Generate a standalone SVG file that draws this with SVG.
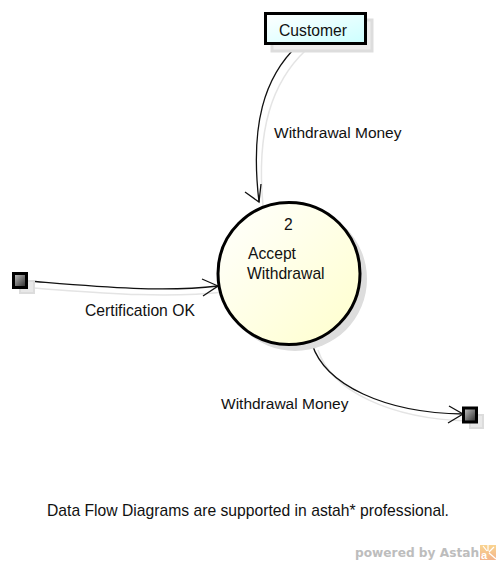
<svg xmlns="http://www.w3.org/2000/svg" width="500" height="565" viewBox="0 0 500 565">
<style>
text{font-family:"Liberation Sans",Arial,sans-serif;font-size:15.700px;fill:#111}
.lab{font-size:15.500px}
.flow{fill:none;stroke:#111;stroke-width:1.3}
.fs{fill:none;stroke:#e4e4e4;stroke-width:1.5}
.term{stroke:#000;stroke-width:3;fill:url(#tg)}
.ts{fill:#e8e8e8;stroke:#dcdcdc;stroke-width:2}
</style>
<defs>
<linearGradient id="cg" x1="0" y1="0" x2="1" y2="1"><stop offset="0" stop-color="#fff"/><stop offset="1" stop-color="#ccffff"/></linearGradient>
<linearGradient id="yg" x1="0" y1="0" x2="1" y2="1"><stop offset="0" stop-color="#fff"/><stop offset="1" stop-color="#ffffcc"/></linearGradient>
<linearGradient id="tg" x1="0" y1="0" x2="1" y2="1"><stop offset="0" stop-color="#ccc"/><stop offset="1" stop-color="#222"/></linearGradient>
<linearGradient id="lg" x1="0" y1="0" x2="0" y2="1"><stop offset="0" stop-color="#f9d490"/><stop offset="1" stop-color="#f3b48c"/></linearGradient>
</defs>
<g id="connectors">
<path class="fs" d="M306 50C272 82 256 130 263 206"/>
<path class="fs" d="M33 288C90 292 160 299 225 292"/>
<path class="fs" d="M318 350C331 391 391 419 468 421"/>
<path class="flow" d="M298 45C264 77 250 125 259 202"/>
<path class="flow" d="M245 192L259 202L261 184"/>
<path class="flow" d="M28 281C90 286 160 293 218 286"/>
<path class="flow" d="M202 279L218 286L203 296"/>
<path class="flow" d="M312 344C325 385 385 413 463 414"/>
<path class="flow" d="M449 406L463 414L448 423"/>
</g>
<g id="customer">
<rect x="272" y="20" width="100" height="31" fill="#eee" stroke="#ddd" stroke-width="3"/>
<rect x="265.500" y="13.500" width="100" height="30" fill="url(#cg)" stroke="#000" stroke-width="3"/>
<text x="279" y="36">Customer</text>
</g>
<g id="process">
<circle cx="295" cy="279" r="72" fill="#ddd"/>
<circle cx="289" cy="273.500" r="71" fill="url(#yg)" stroke="#000" stroke-width="3"/>
<text x="284" y="230">2</text>
<text x="248" y="259">Accept</text>
<text x="247" y="279">Withdrawal</text>
</g>
<g id="source">
<rect x="20" y="281" width="14" height="12" class="ts"/>
<rect x="13.500" y="273.500" width="13" height="14" class="term"/>
</g>
<g id="sink">
<rect x="470" y="415" width="13" height="13" class="ts"/>
<rect x="463.500" y="408" width="13" height="14" class="term"/>
</g>
<text class="lab" x="274" y="138">Withdrawal Money</text>
<text x="85" y="316">Certification OK</text>
<text class="lab" x="221" y="409">Withdrawal Money</text>
<text x="47" y="516">Data Flow Diagrams are supported in astah* professional.</text>
<text x="355" y="557" style="font-family:'DejaVu Sans',sans-serif;font-weight:bold;font-size:12.200px;fill:#bdbdbd">powered by Astah</text>
<rect x="480" y="545" width="16" height="15" fill="url(#lg)"/>
<path d="M488 545V551M483 546L487 551M494 547L489 552M489 553L496 559" stroke="#fff" stroke-width="1.200" fill="none"/>
<text x="481" y="559" style="font-size:11px;font-weight:bold;fill:#fff">a</text>
</svg>
